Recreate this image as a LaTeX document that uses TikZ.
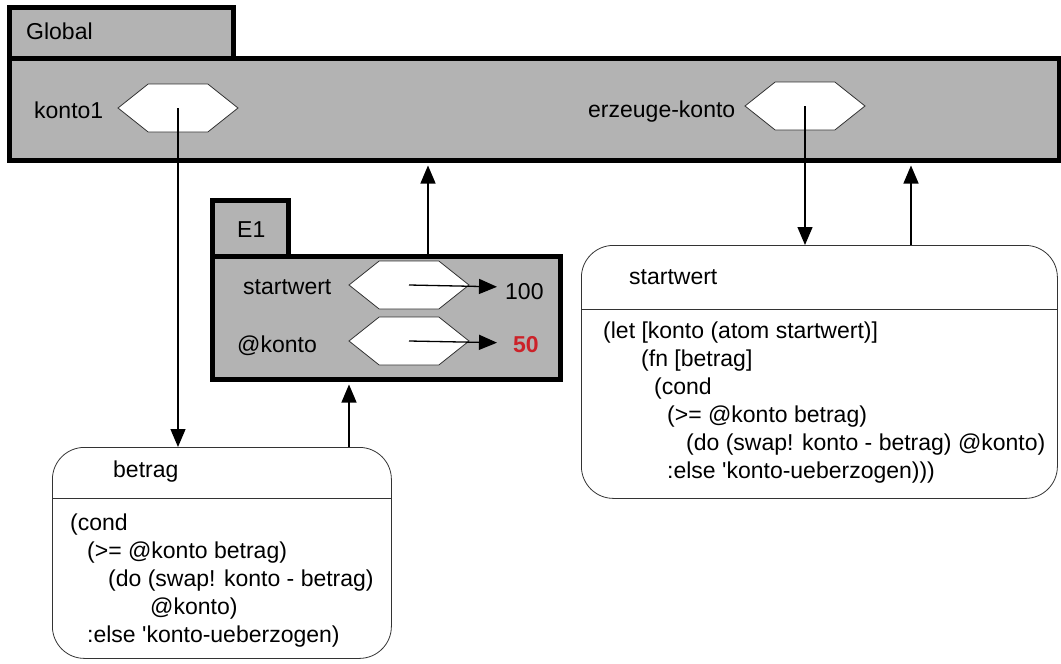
\documentclass[tikz,border=0pt]{standalone}
\usepackage{fontspec}
\setmainfont{Liberation Sans}
\usetikzlibrary{arrows.meta, positioning, shapes.symbols}
\definecolor{envgray}{RGB}{179,179,179}
\definecolor{valred}{RGB}{204,34,41}

\begin{document}
\begin{tikzpicture}[x=1pt,y=-1pt,
    font=\fontsize{23}{28}\selectfont,
    envbox/.style={draw, fill=envgray, line width=5pt, rectangle, inner sep=0pt, anchor=north west},
    cell/.style={draw=black!80, fill=white, line width=0.8pt, signal, signal to=east and west,
        signal pointer angle=77, minimum width=120pt, minimum height=48pt, inner sep=0pt},
    procbox/.style={draw=black!80, rounded corners=32pt, line width=0.8pt, rectangle, inner sep=0pt, anchor=north west},
    txt/.style={anchor=base west, inner sep=0pt},
    arr/.style={-{Triangle[length=18pt,width=15pt]}, line width=1.3pt}]
    \useasboundingbox (0,0) rectangle (1061,664);

    % Environments
    \node (globaltab) [envbox, minimum width=224pt, minimum height=51pt] at (7,5) {};
    \node (global) [envbox, minimum width=1050pt, minimum height=102pt] at (7,56) {};
    \node (e1tab) [envbox, minimum width=76pt, minimum height=56pt] at (210,198) {};
    \node (e1) [envbox, minimum width=348pt, minimum height=123pt] at (210,254) {};

    % Procedures
    \node (betragbox) [procbox, minimum width=339pt, minimum height=211pt] at (52,447) {};
    \node (fnbox) [procbox, minimum width=476pt, minimum height=253pt] at (581,245) {};
    \draw[draw=black!80, line width=0.8pt] (betragbox.west |- 0,498) -- (betragbox.east |- 0,498);
    \draw[draw=black!80, line width=0.8pt] (fnbox.west |- 0,309) -- (fnbox.east |- 0,309);

    % Cells
    \node (kontohex) [cell] at (178,108) {};
    \node (erzhex) [cell] at (805,106) {};
    \node (starthex) [cell] at (409,285) {};
    \node (atomhex) [cell] at (409,341) {};

    % Labels
    \node (globallbl) [txt] at (26,39) {Global};
    \node (kontolbl) [txt] at (34,118) {konto1};
    \node (erzlbl) [txt] at (588,117) {erzeuge-konto};
    \node (e1lbl) [txt] at (237,237) {E1};
    \node (startlbl) [txt] at (243,294) {startwert};
    \node (atomlbl) [txt] at (237,352) {@konto};
    \node (hundred) [txt] at (505,299) {100};
    \node (fifty) [txt, text=valred, font=\fontsize{23}{28}\selectfont\bfseries] at (513,352) {50};

    \node (betraghead) [txt] at (113,477) {betrag};
    % multi-line nodes sit on their last baseline
    \node (betragcode) [txt, align=left] at (70,642) {(cond\\
        \hspace*{17pt}(>= @konto betrag)\\
        \hspace*{38pt}(do (swap! konto - betrag)\\
        \hspace*{80pt}@konto)\\
        \hspace*{17pt}:else \textquotesingle konto-ueberzogen)};

    \node (fnhead) [txt] at (629,284) {startwert};
    \node (fncode) [txt, align=left] at (603,478) {(let [konto (atom startwert)]\\
        \hspace*{38pt}(fn [betrag]\\
        \hspace*{51pt}(cond\\
        \hspace*{64pt}(>= @konto betrag)\\
        \hspace*{83pt}(do (swap! konto - betrag) @konto)\\
        \hspace*{64pt}:else \textquotesingle konto-ueberzogen)))};

    % Connections
    \draw[arr] (kontohex.center) -- (kontohex.center |- betragbox.north);
    \draw[arr] (erzhex.center) -- (erzhex.center |- fnbox.north);
    \draw[arr, shorten >=2.5pt] (fnbox.north -| 911,0) -- (global.south -| 911,0);
    \draw[arr, shorten >=2.5pt] (e1.north -| 428,0) -- (global.south -| 428,0);
    \draw[arr, shorten >=2.5pt] (betragbox.north -| 349,0) -- (e1.south -| 349,0);
    \draw[arr, shorten >=8pt] (starthex.center) -- ([yshift=-2pt]starthex.center -| hundred.west);
    \draw[arr, shorten >=16pt] (atomhex.center) -- ([yshift=-2pt]atomhex.center -| fifty.west);
\end{tikzpicture}
\end{document}
